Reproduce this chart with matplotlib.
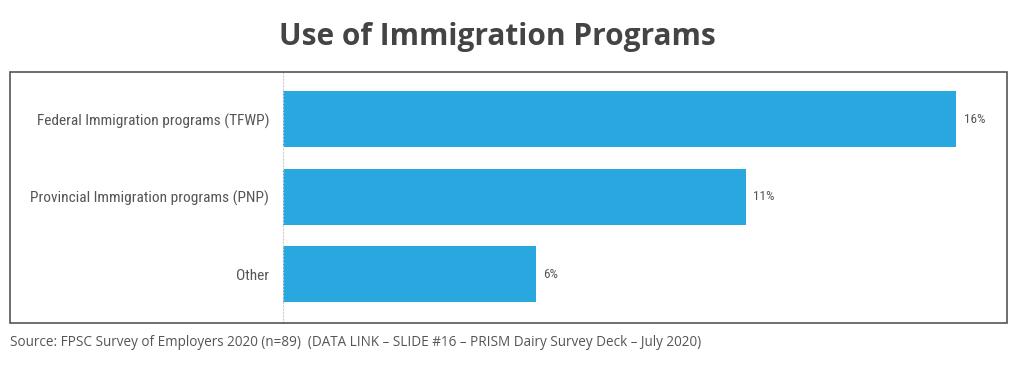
import matplotlib.pyplot as plt
from matplotlib.patches import Rectangle
from matplotlib import font_manager as fm

categories = ["Federal Immigration programs (TFWP)",
              "Provincial Immigration programs (PNP)",
              "Other"]
values = [16, 11, 6]

# pick the regular upright Open Sans file for the source line
src_font = fm.FontProperties(family="Noto Sans", size=9.75)
for f in fm.fontManager.ttflist:
    fn = f.fname.lower()
    if (f.name == "Open Sans" and f.style == "normal" and f.weight == 400
            and "condensed" not in fn and "italic" not in fn):
        src_font = fm.FontProperties(fname=f.fname, size=9.75)
        break

W, H = 1024, 368
fig = plt.figure(figsize=(W / 100, H / 100), dpi=100)
fig.patch.set_facecolor("white")

# outer box
fig.patches.append(Rectangle((10 / W, 1 - 323 / H), 997 / W, 251 / H,
                             transform=fig.transFigure, fill=False,
                             edgecolor="#555555", linewidth=1.2))

ax = fig.add_axes([283 / W, 1 - 323 / H, 724 / W, 251 / H])
y = range(len(categories))
ax.barh(y, values, height=0.72, color="#29A8E0")
ax.set_xlim(0, 17.2)
ax.set_ylim(2.63, -0.61)
ax.set_yticks(list(y))
ax.set_yticklabels(categories, family="Roboto Condensed", fontsize=11.1,
                   color="#555555")
ax.tick_params(axis="y", length=0, pad=10)
ax.set_xticks([])
for s in ["top", "right", "bottom"]:
    ax.spines[s].set_visible(False)
ax.spines["left"].set_linestyle((0, (1, 2)))
ax.spines["left"].set_color("#cccccc")
ax.patch.set_alpha(0)

for i, v in enumerate(values):
    ax.text(v + 0.17, i, f"{v}%", va="center", ha="left",
            family="Roboto Condensed", fontsize=9.5, color="#555555")

fig.text(497 / W, 1 - 37 / H, "Use of Immigration Programs", ha="center",
         va="center", family="Open Sans", fontweight="bold", fontsize=21.5,
         color="#444444")
fig.text(10 / W, 1 - 342 / H,
         "Source: FPSC Survey of Employers 2020 (n=89)  (DATA LINK \u2013 SLIDE #16 \u2013 PRISM Dairy Survey Deck \u2013 July 2020)",
         ha="left", va="center", fontproperties=src_font, color="#555555")

fig.savefig("out.png", dpi=100)
